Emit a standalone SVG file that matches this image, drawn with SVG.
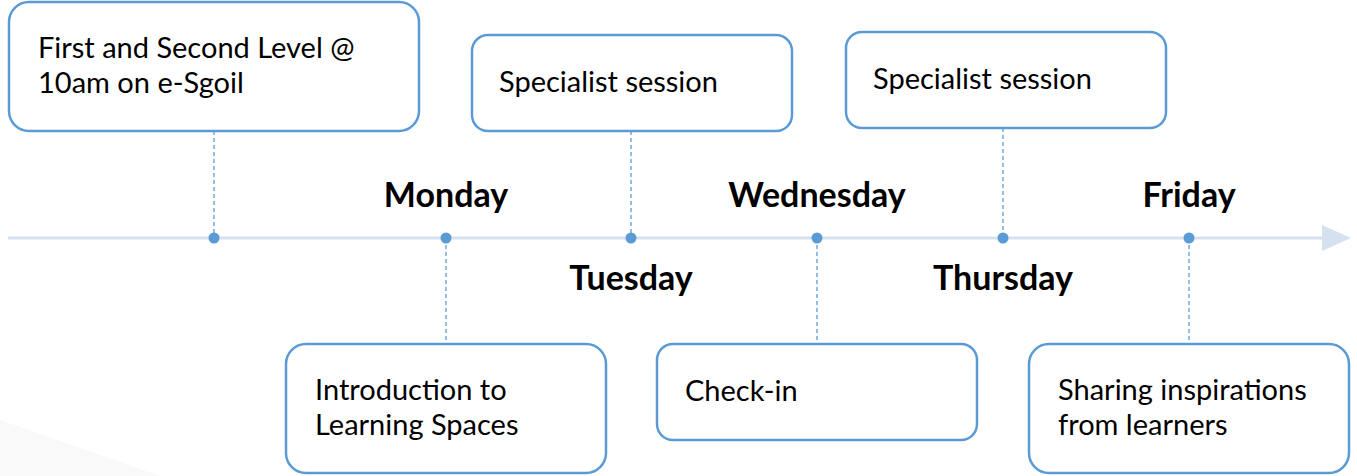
<svg xmlns="http://www.w3.org/2000/svg" width="1357" height="476" viewBox="0 0 1357 476">
<style>
.box{fill:#fff;stroke:#5b9bd5;stroke-width:2.5}
.t{font-family:Lato,"Open Sans",sans-serif;font-size:29px;fill:#000}
.day{font-family:Lato,"Open Sans",sans-serif;font-size:34px;font-weight:bold;fill:#000;text-anchor:middle}
.dash{stroke:#5b9bd5;stroke-width:1.3;stroke-dasharray:4 3;fill:none}
.dot{fill:#5b9bd5}
</style>
<rect width="1357" height="476" fill="#fff"/>
<polygon points="0,420 160,476 0,476" fill="#f9f9f9"/>
<g id="connectors">
<line x1="8" y1="238" x2="1324" y2="238" stroke="#d6e1ef" stroke-width="3"/>
<polygon points="1322,225 1351,238 1322,251" fill="#d6e1ef"/>
<line class="dash" x1="214" y1="131" x2="214" y2="238"/>
<line class="dash" x1="446" y1="238" x2="446" y2="344"/>
<line class="dash" x1="631" y1="131" x2="631" y2="238"/>
<line class="dash" x1="817" y1="238" x2="817" y2="344"/>
<line class="dash" x1="1003" y1="128" x2="1003" y2="238"/>
<line class="dash" x1="1189" y1="238" x2="1189" y2="344"/>
<circle class="dot" cx="214" cy="238" r="5.5"/>
<circle class="dot" cx="446" cy="238" r="5.5"/>
<circle class="dot" cx="631" cy="238" r="5.5"/>
<circle class="dot" cx="817" cy="238" r="5.5"/>
<circle class="dot" cx="1003" cy="238" r="5.5"/>
<circle class="dot" cx="1189" cy="238" r="5.5"/>
</g>
<g id="days">
<text class="day" x="446" y="207">Monday</text>
<text class="day" x="631" y="290">Tuesday</text>
<text class="day" x="817" y="207">Wednesday</text>
<text class="day" x="1003" y="290">Thursday</text>
<text class="day" x="1189" y="207">Friday</text>
</g>
<g id="node-sunday">
<rect class="box" x="9" y="2" width="410" height="129" rx="20"/>
<text class="t" x="38" y="58">First and Second Level @</text>
<text class="t" x="38" y="93">10am on e-Sgoil</text>
</g>
<g id="node-tuesday">
<rect class="box" x="472" y="35" width="320" height="96" rx="16"/>
<text class="t" x="499" y="92">Specialist session</text>
</g>
<g id="node-thursday">
<rect class="box" x="846" y="32" width="320" height="96" rx="16"/>
<text class="t" x="873" y="89">Specialist session</text>
</g>
<g id="node-monday">
<rect class="box" x="286" y="344" width="320" height="129" rx="20"/>
<text class="t" x="315" y="400">Introduction to</text>
<text class="t" x="315" y="435">Learning Spaces</text>
</g>
<g id="node-wednesday">
<rect class="box" x="657" y="344" width="320" height="96" rx="16"/>
<text class="t" x="685" y="401">Check-in</text>
</g>
<g id="node-friday">
<rect class="box" x="1029" y="344" width="320" height="129" rx="20"/>
<text class="t" x="1058" y="400">Sharing inspirations</text>
<text class="t" x="1058" y="435">from learners</text>
</g>
</svg>
